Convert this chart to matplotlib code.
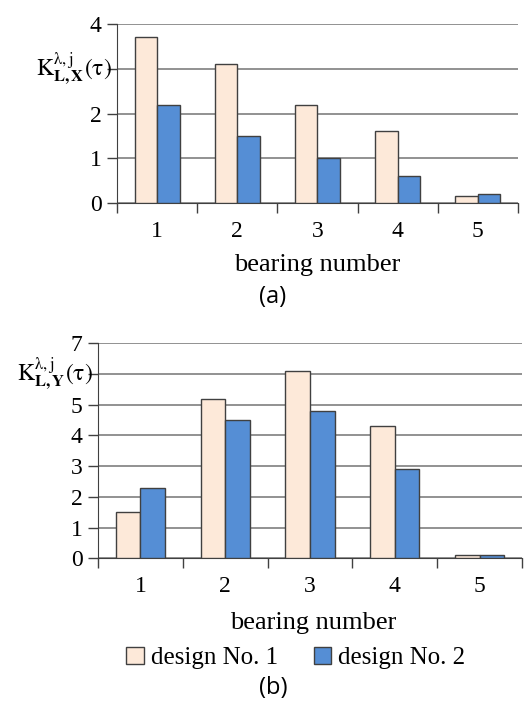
import numpy as np
import matplotlib
matplotlib.use('Agg')
import matplotlib.pyplot as plt
from matplotlib.patches import Patch

plt.rcParams['font.family'] = ['Liberation Serif', 'DejaVu Serif']
plt.rcParams['mathtext.fontset'] = 'stix'

bearings = ['1', '2', '3', '4', '5']
series_names = ['design No. 1', 'design No. 2']

# (a) K_L,X
design1_x = [3.7, 3.1, 2.2, 1.6, 0.15]
design2_x = [2.2, 1.5, 1.0, 0.6, 0.2]

# (b) K_L,Y
design1_y = [1.5, 5.2, 6.1, 4.3, 0.1]
design2_y = [2.3, 4.5, 4.8, 2.9, 0.1]

PINK = '#FDE9D9'
BLUE = '#558ED5'
EDGE = '#404040'
GRID = '#7f7f7f'


def draw_panel(ax, d1, d2, ymax, label_tick, ylabel, bar_w):
    x = np.arange(len(bearings))
    ax.bar(x - bar_w / 2, d1, bar_w, color=PINK, edgecolor=EDGE, linewidth=1, zorder=3)
    ax.bar(x + bar_w / 2, d2, bar_w, color=BLUE, edgecolor=EDGE, linewidth=1, zorder=3)
    ax.set_xlim(-0.5, len(bearings) - 0.5)
    ax.set_ylim(0, ymax)

    yt = list(range(0, ymax + 1))
    ax.set_yticks(yt)
    ax.set_yticklabels(['' if v == label_tick else str(v) for v in yt])
    ax.yaxis.grid(True, color=GRID, linewidth=1.2, zorder=0)
    ax.set_axisbelow(True)

    # category boundaries as ticks, labels at centres
    ax.set_xticks(np.arange(-0.5, len(bearings)))
    ax.set_xticklabels([])
    ax.set_xticks(x, minor=True)
    ax.set_xticklabels(bearings, minor=True)
    ax.tick_params(axis='x', which='major', length=7, width=1, color=EDGE, direction='out')
    ax.tick_params(axis='x', which='minor', length=0, pad=13, labelsize=17)
    ax.tick_params(axis='y', length=7, width=1, color=EDGE, pad=4, labelsize=17)

    for s in ['top', 'right']:
        ax.spines[s].set_visible(False)
    ax.spines['left'].set_color(EDGE)
    ax.spines['bottom'].set_color(EDGE)

    ax.text(-0.012, label_tick, ylabel, transform=ax.get_yaxis_transform(),
            ha='right', va='center', fontsize=17)


fig = plt.figure(figsize=(5.24, 7.02), dpi=100)

ax1 = fig.add_axes([0.2233, 0.7108, 0.7652, 0.255])
draw_panel(ax1, design1_x, design2_x, 4, 3,
           r'$\mathrm{K}_{\mathbf{L,X}}^{\mathrm{\lambda,j}}(\mathrm{\tau})$', 0.28)

ax2 = fig.add_axes([0.187, 0.2047, 0.809, 0.3063])
draw_panel(ax2, design1_y, design2_y, 7, 6,
           r'$\mathrm{K}_{\mathbf{L,Y}}^{\mathrm{\lambda,j}}(\mathrm{\tau})$', 0.29)

fig.text(317 / 524, 1 - 265 / 702, 'bearing number', ha='center', va='center', fontsize=19)
fig.text(273 / 524, 1 - 297 / 702, '(a)', ha='center', va='center', fontsize=17,
         family=['Open Sans', 'DejaVu Sans'])
fig.text(313 / 524, 1 - 623 / 702, 'bearing number', ha='center', va='center', fontsize=19)
fig.text(273 / 524, 1 - 688 / 702, '(b)', ha='center', va='center', fontsize=17,
         family=['Open Sans', 'DejaVu Sans'])

handles = [Patch(facecolor=PINK, edgecolor=EDGE, label=series_names[0]),
           Patch(facecolor=BLUE, edgecolor=EDGE, label=series_names[1])]
fig.legend(handles=handles, loc='center', bbox_to_anchor=(296 / 524, 1 - 658 / 702),
           ncol=2, frameon=False, fontsize=18, handlelength=0.7, handleheight=0.7,
           handletextpad=0.3, columnspacing=1.4)

fig.savefig('out.png', dpi=100)
